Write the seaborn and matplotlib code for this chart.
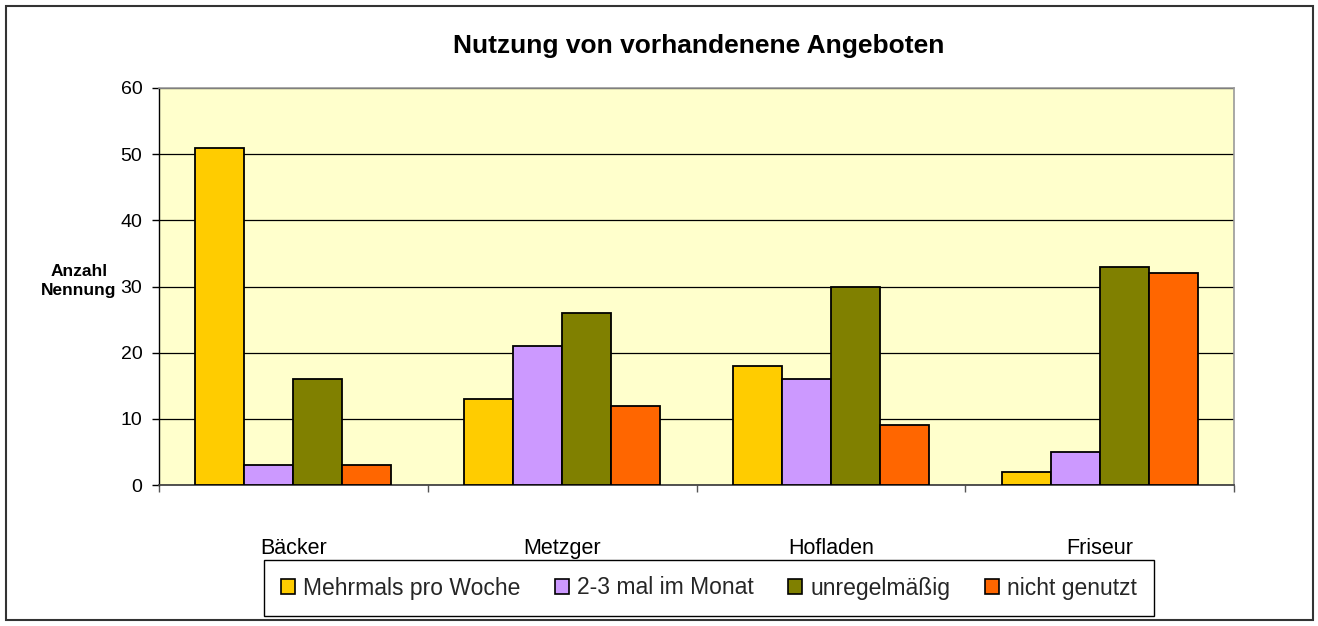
import matplotlib
matplotlib.use("Agg")
import matplotlib.pyplot as plt
import seaborn as sns
import pandas as pd
from matplotlib.patches import Rectangle
from matplotlib.ticker import FixedLocator

categories = ["Bäcker", "Metzger", "Hofladen", "Friseur"]
series = ["Mehrmals pro Woche", "2-3 mal im Monat", "unregelmäßig", "nicht genutzt"]
mehrmals = [51, 13, 18, 2]
monat = [3, 21, 16, 5]
unregelmaessig = [16, 26, 30, 33]
nicht = [3, 12, 9, 32]
colors = ["#FFCC00", "#CC99FF", "#808000", "#FF6600"]
y_ticks = [0, 10, 20, 30, 40, 50, 60]

rows = []
for s, vals in zip(series, [mehrmals, monat, unregelmaessig, nicht]):
    for c, v in zip(categories, vals):
        rows.append({"Kategorie": c, "Serie": s, "Wert": v})
df = pd.DataFrame(rows)

sns.set_theme(style="white")
plt.rcParams["font.family"] = ["Liberation Sans", "DejaVu Sans"]

fig = plt.figure(figsize=(13.18, 6.26), dpi=100)
ax = fig.add_axes([159 / 1318, 1 - 485 / 626, (1234 - 159) / 1318, (485 - 88) / 626])
ax.set_facecolor("#FFFFCC")

sns.barplot(data=df, x="Kategorie", y="Wert", hue="Serie", hue_order=series,
            order=categories, palette=colors, edgecolor="black", linewidth=1.3,
            width=0.73, gap=0, saturation=1, ax=ax, legend=False, zorder=3)

ax.set_xlim(-0.5, 3.5)
ax.set_ylim(0, 60)
ax.set_yticks(y_ticks)
ax.yaxis.grid(True, color="black", linewidth=0.9, zorder=0)
ax.set_axisbelow(True)
ax.set_xlabel("")
ax.set_ylabel("")

ax.xaxis.set_minor_locator(FixedLocator([-0.5, 0.5, 1.5, 2.5, 3.5]))
ax.tick_params(axis="x", which="major", length=0, pad=38, labelsize=15.5, colors="black")
ax.tick_params(axis="x", which="minor", length=5, width=1, color="#555555", direction="out", bottom=True)
ax.tick_params(axis="y", which="major", length=5, width=1, color="black", direction="out", left=True,
               labelsize=14, pad=7, labelcolor="black")

for side in ["top", "right"]:
    ax.spines[side].set_color("#999999")
    ax.spines[side].set_linewidth(1.2)
ax.spines["left"].set_color("black")
ax.spines["bottom"].set_color("#444444")
ax.spines["left"].set_linewidth(1)
ax.spines["bottom"].set_linewidth(1.3)

fig.text(699 / 1318, 1 - 46 / 626, "Nutzung von vorhandenene Angeboten", ha="center", va="center",
         fontsize=19, fontweight="bold", color="black")
fig.text(79 / 1318, 1 - 281 / 626, "Anzahl\nNennung", ha="center", va="center",
         fontsize=12.5, fontweight="bold", color="black", linespacing=1.3)

handles = [Rectangle((0, 0), 1, 1, facecolor=c, edgecolor="black", linewidth=1.2) for c in colors]
leg = fig.legend(handles, series, loc="center", bbox_to_anchor=(709 / 1318, 1 - 588 / 626),
                 ncol=4, fancybox=False, frameon=True, edgecolor="black", fontsize=16.5,
                 handlelength=0.6, handleheight=0.6, handletextpad=0.37, columnspacing=1.5,
                 borderpad=0.72, borderaxespad=0, framealpha=1)
leg.get_frame().set_linewidth(1)
leg.get_frame().set_boxstyle("square", pad=0)

fig.patches.append(Rectangle((6 / 1318, 6 / 626), (1313 - 6) / 1318, (620 - 6) / 626,
                             transform=fig.transFigure, fill=False, edgecolor="#333333",
                             linewidth=1.5))

fig.savefig("out.png", dpi=100)
